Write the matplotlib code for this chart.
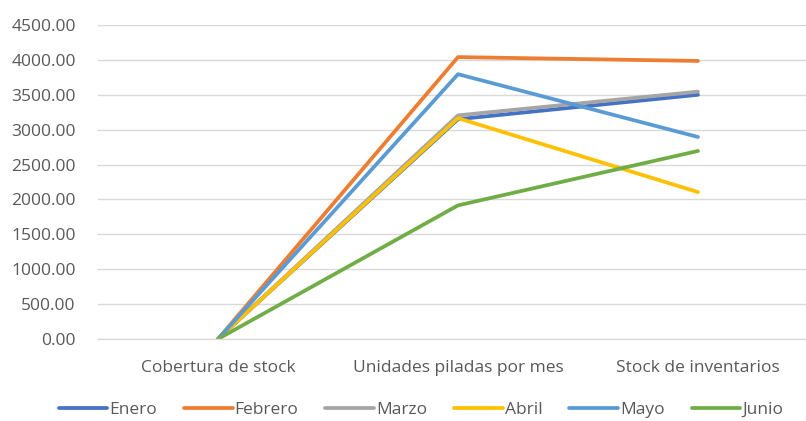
import matplotlib
matplotlib.use('Agg')
import matplotlib.pyplot as plt
from matplotlib.ticker import MultipleLocator, FormatStrFormatter

# Data
categories = ["Cobertura de stock", "Unidades piladas por mes", "Stock de inventarios"]
months = ["Enero", "Febrero", "Marzo", "Abril", "Mayo", "Junio"]
enero = [0, 3150, 3500]
febrero = [0, 4040, 3985]
marzo = [0, 3205, 3545]
abril = [0, 3165, 2105]
mayo = [0, 3795, 2895]
junio = [0, 1915, 2695]

series = [enero, febrero, marzo, abril, mayo, junio]
colors = ["#4472C4", "#ED7D31", "#A5A5A5", "#FFC000", "#5B9BD5", "#70AD47"]

plt.rcParams['font.family'] = ['Open Sans', 'DejaVu Sans']
text_color = "#595959"
grid_color = "#D9D9D9"

fig = plt.figure(figsize=(8.06, 4.21), dpi=100)
# plot area runs past the right edge, like the cropped original
ax = fig.add_axes([98 / 806, 82 / 421, 720 / 806, 314 / 421])

x = range(len(categories))
for name, vals, col in zip(months, series, colors):
    ax.plot(x, vals, color=col, lw=2.7, label=name, solid_capstyle='round')

ax.set_xlim(-0.5, 2.5)
ax.set_ylim(0, 4500)
ax.yaxis.set_major_locator(MultipleLocator(500))
ax.yaxis.set_major_formatter(FormatStrFormatter('%.2f'))
ax.set_xticks(list(x))
ax.set_xticklabels(categories)

ax.grid(axis='y', color=grid_color, lw=1.0)
ax.set_axisbelow(True)
for side in ['top', 'right', 'left']:
    ax.spines[side].set_visible(False)
ax.spines['bottom'].set_color(grid_color)
ax.spines['bottom'].set_linewidth(1.0)

ax.tick_params(axis='both', length=0, labelsize=12.5, labelcolor=text_color)
ax.tick_params(axis='y', pad=16)
ax.tick_params(axis='x', pad=15)

leg = fig.legend(loc='center', bbox_to_anchor=(421 / 806, 1 - 410 / 421), ncol=6,
                 frameon=False, fontsize=12.5, handlelength=2.8, handletextpad=0.12,
                 columnspacing=1.55)
for t in leg.get_texts():
    t.set_color(text_color)

fig.savefig("out.png", dpi=100)
